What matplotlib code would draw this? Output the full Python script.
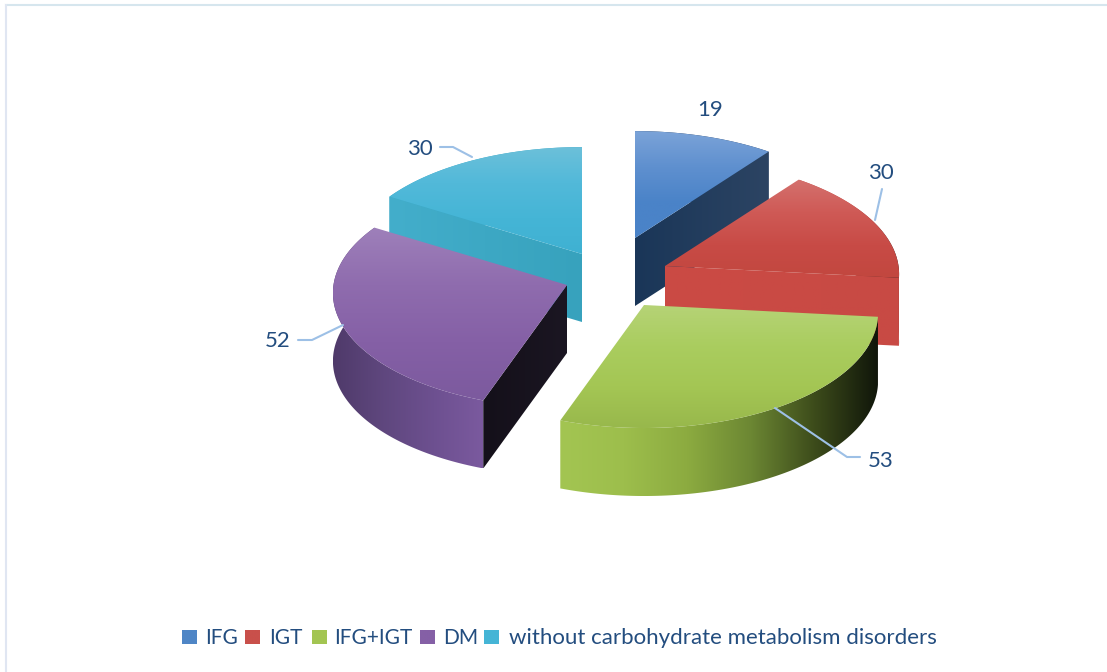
from matplotlib import pyplot as plt
from matplotlib.colors import LinearSegmentedColormap
from matplotlib.patches import Polygon
import numpy as np

plt.rcParams['font.family'] = ['Lato', 'DejaVu Sans']

categories = ['IFG', 'IGT', 'IFG+IGT', 'DM', 'without carbohydrate metabolism disorders']
values = [19, 30, 53, 52, 30]

# exploded slices: where each slice tip ends up, in pixels
tips = [(635, 238), (665, 266), (644, 305), (567, 285), (582, 254)]

# disc shape after tilt
rad_x = 233.5
rad_y = 114.4
persp = 0.07
depth = 68

top_colors = [
	['#7ba3d8', '#5f90cf', '#4a83c8', '#4a83c8'],
	['#d4716e', '#cf5a56', '#c84b46', '#c2473f'],
	['#b6d377', '#aacd5f', '#a4c654', '#98b84c'],
	['#9e80ba', '#8f6cae', '#8560a6', '#7c5a9e'],
	['#6cc0da', '#52b9d9', '#45b5d6', '#3fb1d2'],
]
rim_colors = [
	['#1c3658', '#2b4468'],
	['#c84a45', '#c84a45', '#1a1a1a'],
	['#a3c552', '#9dbe4c', '#8cab40', '#6c8733', '#3d4c1b', '#10160a'],
	['#4f3a6a', '#5f477e', '#6d5090', '#7b5a9f'],
	['#3aa8c6', '#3aa8c6'],
]
# faces along the two cut edges, None where the slice hides them
start_faces = [None, None, None, ['#14101a', '#1b1622'], ['#43aecb', '#37a2bd']]
end_faces = [['#1a3658', '#2c4463'], ['#cb4a45', '#c84a44'], None, None, None]
legend_colors = ['#4f86c6', '#c9504b', '#a3c552', '#8560a6', '#45b5d6']

legend_box_x = [182, 245, 312, 420, 484]
legend_text_x = [205, 269, 334, 443, 509]
legend_sizes = [15, 15, 15, 15, 16]

text_color = '#234d7f'
leader_color = '#9dc0e6'

# label text, anchor and leader path
labels = [
	('19', (710, 110), None),
	('30', (881, 173), [(882, 189), (875, 220)]),
	('53', (881, 461), [(775, 408), (847, 457), (860, 457)]),
	('52', (278, 341), [(343, 325), (312, 340), (298, 340)]),
	('30', (420, 149), [(472, 157), (453, 147), (440, 147)]),
]


def project(theta, tip):
	z = np.cos(theta)
	s = 1/(1 + persp*z)
	return np.column_stack([tip[0] + rad_x*np.sin(theta)*s, tip[1] - rad_y*z*s])


def fill_gradient(ax, xy, colors, horizontal=False, zorder=1):
	xy = np.asarray(xy)
	cmap = LinearSegmentedColormap.from_list('fill', colors)
	ramp = np.linspace(0, 1, 256)
	ramp = ramp.reshape(1, -1) if horizontal else ramp.reshape(-1, 1)
	x0, x1 = xy[:, 0].min(), xy[:, 0].max()
	y0, y1 = xy[:, 1].min(), xy[:, 1].max()
	im = ax.imshow(ramp, cmap=cmap, extent=(x0, x1, y1, y0), aspect='auto',
		origin='upper', interpolation='bilinear', zorder=zorder)
	poly = Polygon(xy, closed=True, transform=ax.transData, facecolor='none', edgecolor='none')
	ax.add_patch(poly)
	im.set_clip_path(poly)


def cut_face(tip, edge):
	corner = project(np.array([edge]), tip)[0]
	return [tip, corner, (corner[0], corner[1] + depth), (tip[0], tip[1] + depth)]


fig = plt.figure(figsize=(11.07, 6.72), dpi=100, facecolor='white')
ax = fig.add_axes([0, 0, 1, 1])
ax.axis('off')

# panel outline, open on the right and bottom
ax.plot([6, 1107], [5, 5], color='#d6e6ee', lw=1.5, zorder=0)
ax.plot([6, 6], [5, 672], color='#e0e6f2', lw=1.5, zorder=0)

edges = np.radians(np.cumsum([0] + values)/np.sum(values)*360)

# back slices first so the front ones cover them
for order, i in enumerate([4, 0, 1, 3, 2]):
	tip = tips[i]
	theta = np.linspace(edges[i], edges[i + 1], 160)
	arc = project(theta, tip)
	z = 2 + order*4

	lower = arc + [0, depth]
	fill_gradient(ax, np.vstack([arc, lower[::-1]]), rim_colors[i], horizontal=True, zorder=z)
	if start_faces[i] is not None:
		fill_gradient(ax, cut_face(tip, edges[i]), start_faces[i], horizontal=True, zorder=z + 1)
	if end_faces[i] is not None:
		fill_gradient(ax, cut_face(tip, edges[i + 1]), end_faces[i], horizontal=True, zorder=z + 1)
	fill_gradient(ax, np.vstack([[tip], arc]), top_colors[i], zorder=z + 2)

for text, pos, path in labels:
	ax.text(pos[0], pos[1], text, color=text_color, fontsize=16, ha='center', va='center', zorder=40)
	if path is not None:
		pts = np.array(path)
		ax.plot(pts[:, 0], pts[:, 1], color=leader_color, lw=1.5, zorder=35, solid_capstyle='round')

for i, name in enumerate(categories):
	x = legend_box_x[i]
	fill_gradient(ax, [(x, 630), (x + 15, 630), (x + 15, 644), (x, 644)],
		[legend_colors[i], legend_colors[i]], zorder=30)
	ax.text(legend_text_x[i], 638, name, color=text_color, fontsize=legend_sizes[i],
		ha='left', va='center', zorder=40)

ax.set_xlim(0, 1107)
ax.set_ylim(672, 0)

fig.savefig('out.png', dpi=100, facecolor='white')
